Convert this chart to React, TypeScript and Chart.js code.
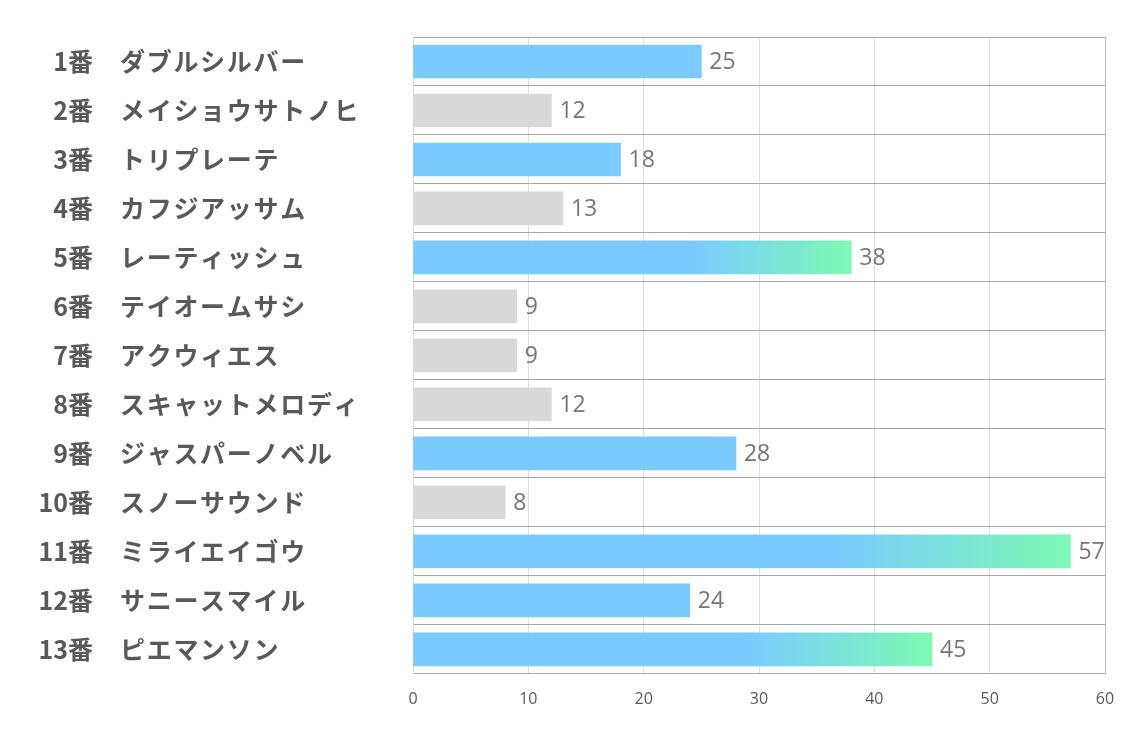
import React, { useEffect, useRef } from "react";
import { Chart, registerables } from "chart.js";

Chart.register(...registerables);

const horseNumbers = ["1番", "2番", "3番", "4番", "5番", "6番", "7番", "8番", "9番", "10番", "11番", "12番", "13番"];
const horseNames = [
  "ダブルシルバー",
  "メイショウサトノヒ",
  "トリプレーテ",
  "カフジアッサム",
  "レーティッシュ",
  "テイオームサシ",
  "アクウィエス",
  "スキャットメロディ",
  "ジャスパーノベル",
  "スノーサウンド",
  "ミライエイゴウ",
  "サニースマイル",
  "ピエマンソン",
];
const votes = [25, 12, 18, 13, 38, 9, 9, 12, 28, 8, 57, 24, 45];
const barKinds = ["blue", "gray", "blue", "gray", "grad", "gray", "gray", "gray", "blue", "gray", "grad", "blue", "grad"];
const xTickValues = [0, 10, 20, 30, 40, 50, 60];

const BLUE = "#7ACBFF";
const GRAY = "#D9D9D9";
const GREEN = "#7DFAB4";

const labelPlugin = {
  id: "customLabels",
  afterDraw(chart: any) {
    const ctx = chart.ctx;
    const yScale = chart.scales.y;
    ctx.save();
    ctx.textBaseline = "middle";
    ctx.fillStyle = "#595959";
    horseNumbers.forEach((num, i) => {
      const py = yScale.getPixelForValue(i);
      ctx.font = 'bold 25px "Noto Sans CJK JP"';
      ctx.textAlign = "right";
      ctx.fillText(num, 93, py);
      ctx.textAlign = "left";
      (ctx as any).letterSpacing = "1.7px";
      ctx.fillText(horseNames[i], 120, py);
      (ctx as any).letterSpacing = "0px";
    });
    const meta = chart.getDatasetMeta(0);
    ctx.font = '23px "Open Sans"';
    ctx.fillStyle = "#767676";
    ctx.textAlign = "left";
    meta.data.forEach((bar: any, i: number) => {
      ctx.fillText(String(votes[i]), bar.x + 8, bar.y + 1);
    });
    ctx.restore();
  },
};

export default function App() {
  const canvasRef = useRef<HTMLCanvasElement | null>(null);

  useEffect(() => {
    if (!canvasRef.current) return;
    const labels = horseNumbers.map((n, i) => n + "　" + horseNames[i]);
    const chart = new Chart(canvasRef.current, {
      type: "bar",
      data: {
        labels,
        datasets: [
          {
            data: votes,
            barThickness: 33,
            borderWidth: 0,
            backgroundColor: (c: any) => {
              const i = c.dataIndex;
              const kind = barKinds[i];
              if (kind === "gray") return GRAY;
              if (kind === "blue") return BLUE;
              const xs = c.chart.scales && c.chart.scales.x;
              if (!xs || !c.chart.chartArea) return BLUE;
              const x0 = xs.getPixelForValue(0);
              const x1 = xs.getPixelForValue(votes[i]);
              const g = c.chart.ctx.createLinearGradient(x0, 0, x1, 0);
              g.addColorStop(0, BLUE);
              g.addColorStop(0.64, BLUE);
              g.addColorStop(1, GREEN);
              return g;
            },
          },
        ],
      },
      options: {
        indexAxis: "y",
        animation: false,
        responsive: true,
        maintainAspectRatio: false,
        layout: { padding: { left: 413, top: 37, right: 29, bottom: 12 } },
        plugins: { legend: { display: false }, tooltip: { enabled: false } },
        scales: {
          x: {
            min: 0,
            max: 60,
            z: 1,
            afterBuildTicks: (scale: any) => {
              scale.ticks = xTickValues.map((v) => ({ value: v }));
            },
            ticks: {
              padding: 16,
              color: "#595959",
              font: { family: "Open Sans", size: 16 },
            },
            grid: {
              drawTicks: false,
              color: (c: any) => (c.index === 6 ? "#bfbfbf" : "rgba(0,0,0,0.13)"),
            },
            border: { display: true, color: "#a6a6a6" },
          },
          y: {
            ticks: { display: false },
            grid: { drawTicks: false, color: "#a6a6a6", offset: true },
            border: { display: true, color: "#d9d9d9" },
          },
        },
      },
      plugins: [labelPlugin],
    } as any);
    return () => chart.destroy();
  }, []);

  return (
    <div style={{ position: "fixed", left: 0, top: 0, width: 1134, height: 737, background: "#fff" }}>
      <canvas ref={canvasRef} />
    </div>
  );
}
